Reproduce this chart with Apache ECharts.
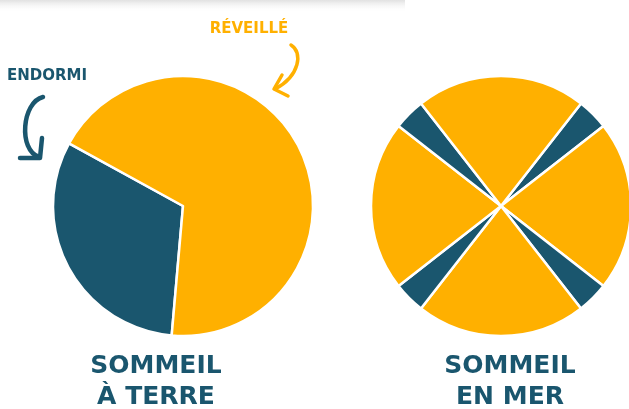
<!DOCTYPE html>
<html>
<head>
<meta charset="utf-8">
<script src="https://cdn.jsdelivr.net/npm/echarts@6/dist/echarts.min.js"></script>
<style>
  html, body { margin: 0; padding: 0; background: #fff; }
  #chart { width: 629px; height: 409px; }
</style>
</head>
<body>
<div id="chart"></div>
<script>
// sommeil à terre : part du temps endormi / réveillé (%)
const landNames = ['Endormi', 'Réveillé'];
const landValues = [31.6, 68.4];

// sommeil en mer : quatre siestes courtes réparties sur la journée (%)
const seaNames = ['Endormi', 'Réveillé', 'Endormi', 'Réveillé', 'Endormi', 'Réveillé', 'Endormi', 'Réveillé'];
const seaValues = [3.9, 21.1, 3.9, 21.1, 3.9, 21.1, 3.9, 21.1];

const titles = ['SOMMEIL\nÀ TERRE', 'SOMMEIL\nEN MER'];
const labelAwake = 'RÉVEILLÉ';
const labelAsleep = 'ENDORMI';

const YELLOW = '#FFB000';
const DARK = '#1A566E';
const FONT = '"DejaVu Sans", sans-serif';

function colorFor(name) {
  return name === 'Endormi' ? DARK : YELLOW;
}

let myChart = echarts.init(document.getElementById('chart'));

let option = {
  animation: false,
  series: [
    {
      type: 'pie',
      center: [183, 206],
      radius: 130,
      startAngle: 265,
      clockwise: true,
      label: { show: false },
      labelLine: { show: false },
      emphasis: { disabled: true },
      itemStyle: { borderColor: '#fff', borderWidth: 2.5 },
      data: landNames.map((n, i) => ({ name: n, value: landValues[i], itemStyle: { color: colorFor(n) } }))
    },
    {
      type: 'pie',
      center: [501, 206],
      radius: 130,
      startAngle: 52,
      clockwise: true,
      label: { show: false },
      labelLine: { show: false },
      emphasis: { disabled: true },
      itemStyle: { borderColor: '#fff', borderWidth: 2.5 },
      data: seaNames.map((n, i) => ({ name: n, value: seaValues[i], itemStyle: { color: colorFor(n) } }))
    }
  ],
  graphic: [
    // ombre grise en haut
    {
      type: 'rect',
      shape: { x: 0, y: 0, width: 405, height: 12 },
      style: {
        fill: new echarts.graphic.LinearGradient(0, 0, 0, 1, [
          { offset: 0, color: 'rgba(200,200,200,0.55)' },
          { offset: 1, color: 'rgba(255,255,255,0)' }
        ])
      },
      silent: true
    },
    {
      type: 'text',
      x: 249, y: 29,
      style: { text: labelAwake, fill: YELLOW, font: 'bold 15px ' + FONT, align: 'center', verticalAlign: 'middle' }
    },
    {
      type: 'text',
      x: 47, y: 76,
      style: { text: labelAsleep, fill: DARK, font: 'bold 15px ' + FONT, align: 'center', verticalAlign: 'middle' }
    },
    // flèche réveillé
    {
      type: 'bezierCurve',
      shape: { x1: 291, y1: 45, cpx1: 303, cpy1: 52, cpx2: 300, cpy2: 76, x2: 275, y2: 89 },
      style: { stroke: YELLOW, lineWidth: 3.5, fill: null, lineCap: 'round' }
    },
    {
      type: 'polyline',
      shape: { points: [[282, 75], [274, 89], [288, 96]] },
      style: { stroke: YELLOW, lineWidth: 3.5, fill: null, lineCap: 'round', lineJoin: 'round' }
    },
    // flèche endormi
    {
      type: 'bezierCurve',
      shape: { x1: 43, y1: 97, cpx1: 22, cpy1: 102, cpx2: 18, cpy2: 150, x2: 39, y2: 157 },
      style: { stroke: DARK, lineWidth: 4.5, fill: null, lineCap: 'round' }
    },
    {
      type: 'polyline',
      shape: { points: [[42, 138], [40, 158], [20, 158]] },
      style: { stroke: DARK, lineWidth: 4.5, fill: null, lineCap: 'round', lineJoin: 'round' }
    },
    {
      type: 'text',
      x: 156, y: 382,
      style: { text: titles[0], fill: DARK, font: 'bold 25px ' + FONT, lineHeight: 31, align: 'center', verticalAlign: 'middle' }
    },
    {
      type: 'text',
      x: 510, y: 382,
      style: { text: titles[1], fill: DARK, font: 'bold 25px ' + FONT, lineHeight: 31, align: 'center', verticalAlign: 'middle' }
    }
  ]
};

myChart.setOption(option);
</script>
</body>
</html>
